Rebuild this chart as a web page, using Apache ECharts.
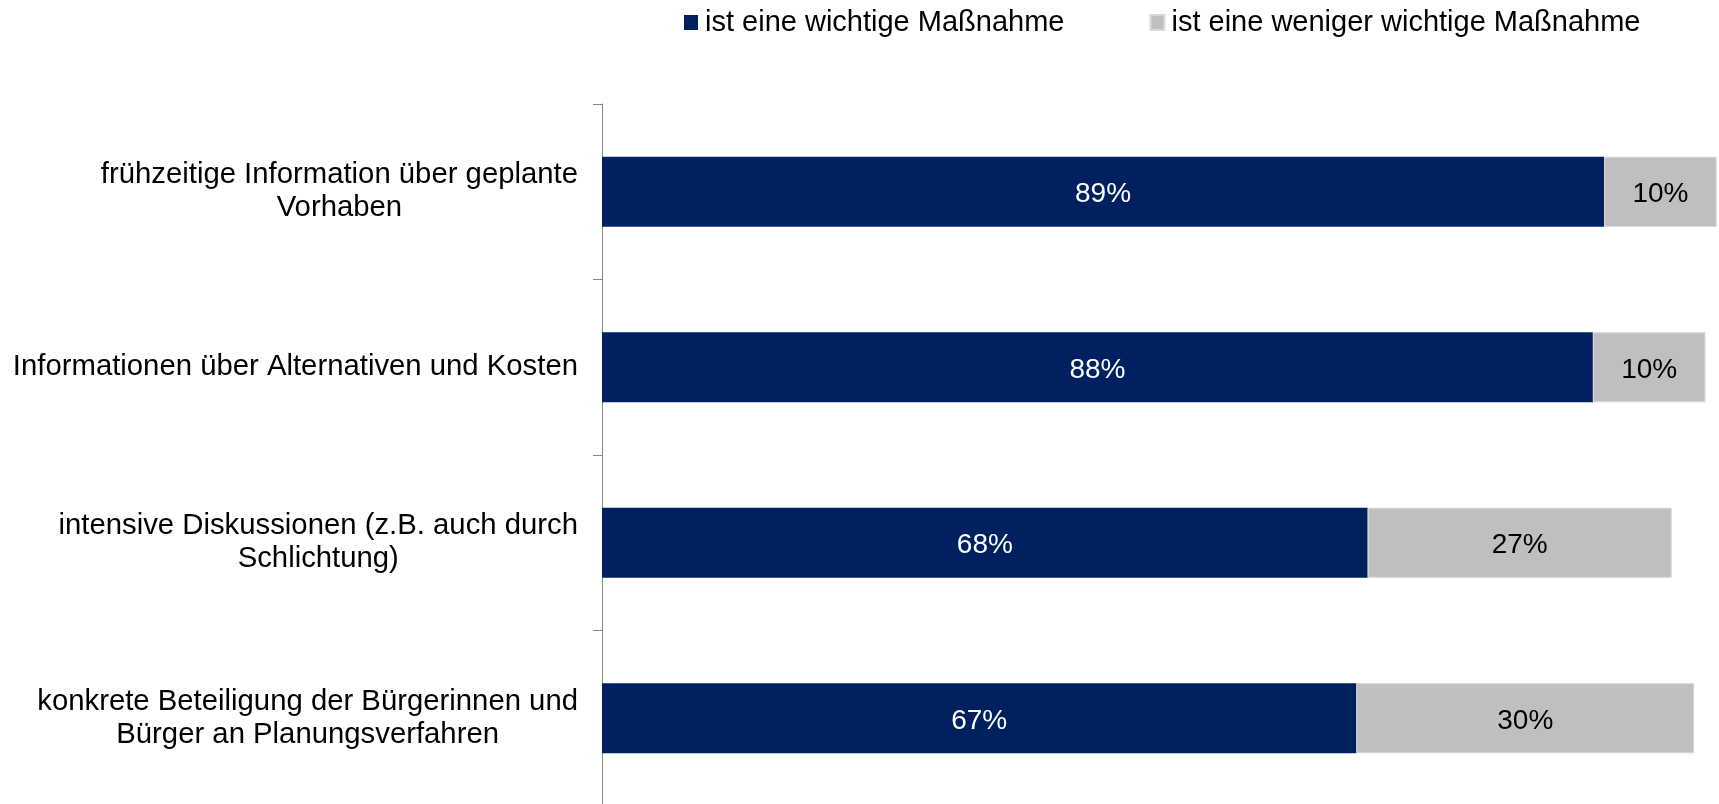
<!DOCTYPE html>
<html>
<head>
<meta charset="utf-8">
<script src="https://cdn.jsdelivr.net/npm/echarts@6/dist/echarts.min.js"></script>
<style>
    html, body { margin: 0; padding: 0; background: #ffffff; }
    #chart { width: 1719px; height: 804px; }
</style>
</head>
<body>
<div id="chart"></div>
<script>
const categories = [
    'frühzeitige Information über geplante\nVorhaben',
    'Informationen über Alternativen und Kosten',
    'intensive Diskussionen (z.B. auch durch\nSchlichtung)',
    'konkrete Beteiligung der Bürgerinnen und\nBürger an Planungsverfahren'
];
const wichtig = [89, 88, 68, 67];
const wenigerWichtig = [10, 10, 27, 30];
const seriesNames = ['ist eine wichtige Maßnahme', 'ist eine weniger wichtige Maßnahme'];

const font = '"Liberation Sans", Arial, sans-serif';

const chart = echarts.init(document.getElementById('chart'));

chart.setOption({
    animation: false,
    textStyle: { fontFamily: font },
    legend: {
        left: 679,
        top: 3,
        itemWidth: 14,
        itemHeight: 15,
        itemGap: 85,
        icon: 'rect',
        textStyle: { fontFamily: font, fontSize: 29, color: '#000', padding: [0, 0, 0, 2] },
        data: seriesNames
    },
    grid: {
        left: 602,
        top: 104,
        width: 1126,
        height: 702,
        outerBoundsMode: 'none'
    },
    xAxis: {
        type: 'value',
        min: 0,
        max: 100,
        show: false
    },
    yAxis: {
        type: 'category',
        inverse: true,
        data: categories,
        axisLine: { show: true, lineStyle: { color: '#868686', width: 1 } },
        axisTick: { show: true, length: 9, lineStyle: { color: '#868686' } },
        axisLabel: {
            margin: 24,
            align: 'right',
            formatter: function (v) {
                return v.split('\n').map(function (l) { return '{c|' + l + '}'; }).join('\n');
            },
            rich: {
                c: { fontFamily: font, fontSize: 29.3, color: '#000', align: 'center', lineHeight: 33 }
            }
        }
    },
    series: [
        {
            name: seriesNames[0],
            type: 'bar',
            stack: 'total',
            barWidth: '40%',
            data: wichtig,
            itemStyle: { color: '#002060' },
            label: {
                show: true,
                position: 'inside',
                offset: [0, 3],
                formatter: '{c}%',
                fontFamily: font,
                fontSize: 28,
                color: '#ffffff'
            }
        },
        {
            name: seriesNames[1],
            type: 'bar',
            stack: 'total',
            barWidth: '40%',
            data: wenigerWichtig,
            itemStyle: { color: '#BFBFBF', borderColor: '#d9d9d9', borderWidth: 1 },
            label: {
                show: true,
                position: 'inside',
                offset: [0, 3],
                formatter: '{c}%',
                fontFamily: font,
                fontSize: 28,
                color: '#000000'
            }
        }
    ]
});
</script>
</body>
</html>
